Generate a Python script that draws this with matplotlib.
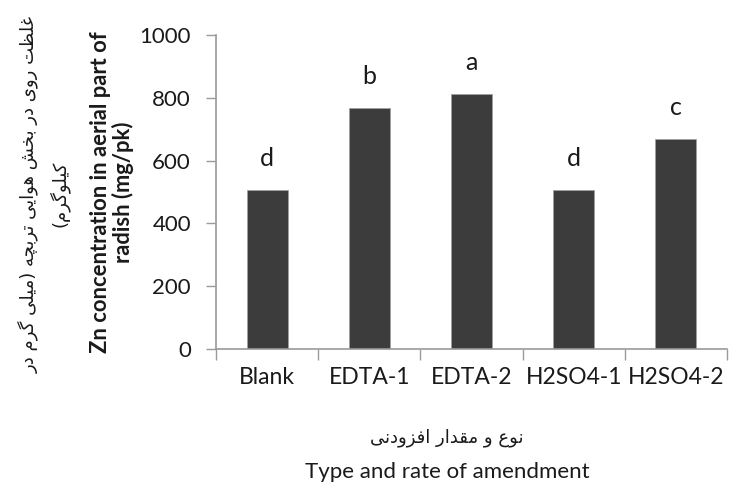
import matplotlib as mpl
mpl.use("Agg")
import matplotlib.pyplot as plt
import numpy as np

# ---- data ----
categories = ["Blank", "EDTA-1", "EDTA-2", "H2SO4-1", "H2SO4-2"]
zn_values = [507, 767, 812, 507, 669]
groups = ["d", "b", "a", "d", "c"]
yticks = [0, 200, 400, 600, 800, 1000]

fa_ylabel = ["غلظت روی در بخش هوایی تربچه (میلی گرم در", "کیلوگرم)"]
fa_xlabel = "نوع و مقدار افزودنی"
en_ylabel = "Zn concentration in aerial part of\nradish (mg/pk)"
en_xlabel = "Type and rate of amendment"

# minimal Persian shaping (matplotlib has no complex text layout)
# char: (isolated, final, initial, medial); right-joining letters have no initial/medial
FORMS = {
    "\u0627": ("\uFE8D", "\uFE8E", None, None),
    "\u0628": ("\uFE8F", "\uFE90", "\uFE91", "\uFE92"),
    "\u062A": ("\uFE95", "\uFE96", "\uFE97", "\uFE98"),
    "\u0686": ("\uFB7A", "\uFB7B", "\uFB7C", "\uFB7D"),
    "\u062E": ("\uFEA5", "\uFEA6", "\uFEA7", "\uFEA8"),
    "\u062F": ("\uFEA9", "\uFEAA", None, None),
    "\u0631": ("\uFEAD", "\uFEAE", None, None),
    "\u0632": ("\uFEAF", "\uFEB0", None, None),
    "\u0634": ("\uFEB5", "\uFEB6", "\uFEB7", "\uFEB8"),
    "\u0638": ("\uFEC5", "\uFEC6", "\uFEC7", "\uFEC8"),
    "\u0639": ("\uFEC9", "\uFECA", "\uFECB", "\uFECC"),
    "\u063A": ("\uFECD", "\uFECE", "\uFECF", "\uFED0"),
    "\u0641": ("\uFED1", "\uFED2", "\uFED3", "\uFED4"),
    "\u0642": ("\uFED5", "\uFED6", "\uFED7", "\uFED8"),
    "\u06A9": ("\uFB8E", "\uFB8F", "\uFB90", "\uFB91"),
    "\u06AF": ("\uFB92", "\uFB93", "\uFB94", "\uFB95"),
    "\u0644": ("\uFEDD", "\uFEDE", "\uFEDF", "\uFEE0"),
    "\u0645": ("\uFEE1", "\uFEE2", "\uFEE3", "\uFEE4"),
    "\u0646": ("\uFEE5", "\uFEE6", "\uFEE7", "\uFEE8"),
    "\u0647": ("\uFEE9", "\uFEEA", "\uFEEB", "\uFEEC"),
    "\u0648": ("\uFEED", "\uFEEE", None, None),
    "\u06CC": ("\uFBFC", "\uFBFD", "\uFBFE", "\uFBFF"),
}

def shape(s):
    out = []
    for i, ch in enumerate(s):
        f = FORMS.get(ch)
        if f is None:
            out.append(ch)
            continue
        prev = s[i - 1] if i > 0 else None
        nxt = s[i + 1] if i + 1 < len(s) else None
        jp = prev in FORMS and FORMS[prev][2] is not None
        jn = nxt in FORMS and f[2] is not None
        if jp and jn:
            out.append(f[3])
        elif jp:
            out.append(f[1])
        elif jn:
            out.append(f[2])
        else:
            out.append(f[0])
    vis = "".join(out)[::-1]
    return vis.translate(str.maketrans("()", ")("))

W, H = 741, 486
fig = plt.figure(figsize=(W / 100, H / 100), dpi=100)
ax = fig.add_axes([216 / W, 1 - 349 / H, (727 - 216) / W, (349 - 35) / H])

BAR = "#3c3c3c"
SP = "#9a9a9a"
TXT = "#1a1a1a"
EN = ["Lato", "DejaVu Sans"]

x = np.arange(len(categories))
ax.bar(x, zn_values, width=0.4, color=BAR, edgecolor="#a0a0a0", linewidth=0.6, zorder=2)
for xi, v, g in zip(x, zn_values, groups):
    ax.text(xi, v + 100, g, ha="center", va="center", fontsize=18, family=EN, color=TXT)

ax.set_xlim(-0.5, len(categories) - 0.5)
ax.set_ylim(0, 1000)
ax.set_yticks(yticks)
ax.set_yticklabels([str(t) for t in yticks], family=EN, fontsize=16, color=TXT)
ax.set_xticks(np.arange(len(categories) + 1) - 0.5)
ax.set_xticklabels([])
ax.set_xticks(x, minor=True)
ax.set_xticklabels(categories, minor=True, family=EN, fontsize=16.5, color=TXT)
ax.tick_params(axis="x", which="major", length=8, color=SP, width=1)
ax.tick_params(axis="x", which="minor", length=0, pad=13)
ax.tick_params(axis="y", length=7, color=SP, width=1, pad=11)
for s in ("top", "right"):
    ax.spines[s].set_visible(False)
for s in ("left", "bottom"):
    ax.spines[s].set_color(SP)
    ax.spines[s].set_linewidth(1.2)

# English axis labels
fig.text(112 / W, 1 - 192 / H, en_ylabel, rotation=90, ha="center", va="center",
         fontsize=15.8, fontweight="bold", family=EN, color=TXT, linespacing=1.0,
         multialignment="center")
fig.text(447 / W, 1 - 472 / H, en_xlabel, ha="center", va="center",
         fontsize=16, family=EN, color=TXT)

# Persian labels
fig.text(44 / W, 1 - 194 / H, "\n".join(shape(l) for l in fa_ylabel), rotation=90,
         ha="center", va="center", fontsize=13, family="DejaVu Sans", color=TXT,
         linespacing=1.6, multialignment="center")
fig.text(447 / W, 1 - 438 / H, shape(fa_xlabel), ha="center", va="center",
         fontsize=13, family="DejaVu Sans", color=TXT)

fig.savefig("out.png", dpi=100)
